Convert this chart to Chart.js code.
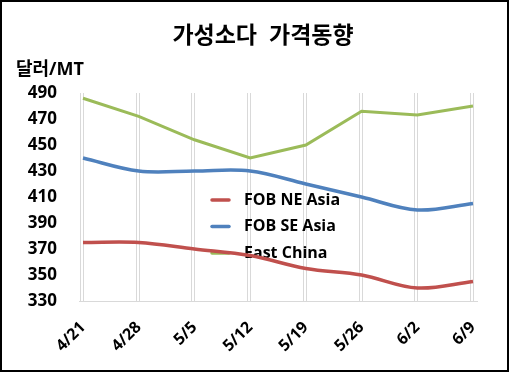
<!DOCTYPE html>
<html>
<head>
<meta charset="utf-8">
<script src="https://cdn.jsdelivr.net/npm/chart.js@4"></script>
<style>
  html, body { margin: 0; padding: 0; background: #fff; }
  #wrap { width: 509px; height: 372px; position: relative; }
</style>
</head>
<body>
<div id="wrap"><canvas id="priceChart"></canvas></div>
<script>
// Chart data
const weeks = ['4/21', '4/28', '5/5', '5/12', '5/19', '5/26', '6/2', '6/9'];
const neAsia = [375, 375, 370, 365, 355, 350, 340, 345];
const seAsia = [440, 430, 430, 430, 420, 410, 400, 405];
const eastChina = [486, 472, 454, 440, 450, 476, 473, 480];
const yTicks = [330, 350, 370, 390, 410, 430, 450, 470, 490];

const FONT = "'Open Sans', 'Noto Sans CJK KR', sans-serif";
const ctx = document.getElementById('priceChart').getContext('2d');

// Title, unit label, gridlines, legend and frame
const decorPlugin = {
    id: 'decor',
    beforeDatasetsDraw(chart) {
        const c = chart.ctx;
        const area = chart.chartArea;
        const xs = chart.scales.x;
        c.save();
        // vertical gridlines (doubled like the original)
        c.strokeStyle = '#d9d9d9';
        c.lineWidth = 1;
        weeks.forEach((w, i) => {
            const x = Math.round(xs.getPixelForValue(i)) + 0.5;
            [x - 3, x].forEach(gx => {
                c.beginPath();
                c.moveTo(gx, area.top);
                c.lineTo(gx, area.bottom + 1);
                c.stroke();
            });
        });
        // bottom axis line
        c.beginPath();
        c.moveTo(area.left - 4, area.bottom + 0.5);
        c.lineTo(area.right + 5, area.bottom + 0.5);
        c.stroke();

        // legend (drawn under the lines)
        const legend = [
            ['FOB NE Asia', '#c0504d'],
            ['FOB SE Asia', '#4f81bd'],
            ['East China', '#9bbb59']
        ];
        c.font = "bold 16px " + FONT;
        c.textBaseline = 'middle';
        c.textAlign = 'left';
        legend.forEach((item, i) => {
            const y = 200 + i * 26.5;
            c.strokeStyle = item[1];
            c.lineWidth = 3.5;
            c.lineCap = 'round';
            c.beginPath();
            c.moveTo(212, y);
            c.lineTo(229, y);
            c.stroke();
            c.fillStyle = '#000';
            c.fillText(item[0], 244, y);
        });
        c.restore();
    },
    afterDraw(chart) {
        const c = chart.ctx;
        c.save();
        c.fillStyle = '#000';
        c.textBaseline = 'middle';
        c.textAlign = 'center';
        c.font = "bold 23px " + FONT;
        c.fillText('가성소다  가격동향', 263, 36);
        c.textAlign = 'left';
        c.font = "bold 18px " + FONT;
        c.fillText('달러/MT', 16, 70);
        c.strokeStyle = '#000';
        c.lineWidth = 2;
        c.strokeRect(1, 1, 507, 370);
        c.restore();
    }
};

new Chart(ctx, {
    type: 'line',
    data: {
        labels: weeks,
        datasets: [
            {
                label: 'FOB NE Asia',
                data: neAsia,
                borderColor: '#c0504d',
                borderWidth: 3.5,
                tension: 0.35,
                pointRadius: 0
            },
            {
                label: 'FOB SE Asia',
                data: seAsia,
                borderColor: '#4f81bd',
                borderWidth: 3.5,
                tension: 0.35,
                pointRadius: 0
            },
            {
                label: 'East China',
                data: eastChina,
                borderColor: '#9bbb59',
                borderWidth: 3,
                tension: 0,
                pointRadius: 0
            }
        ]
    },
    options: {
        responsive: true,
        maintainAspectRatio: false,
        animation: false,
        layout: { padding: { top: 93, right: 36, left: 0, bottom: 0 } },
        scales: {
            x: {
                offset: false,
                grid: { display: false },
                border: { display: false },
                ticks: {
                    color: '#000',
                    font: { family: FONT, size: 16, weight: 'bold' },
                    minRotation: 45,
                    maxRotation: 45,
                    padding: 9
                },
                afterFit: (s) => { s.height = 71; }
            },
            y: {
                min: 330,
                max: 490,
                grid: { display: false },
                border: { display: false },
                afterBuildTicks: (s) => { s.ticks = yTicks.map(v => ({ value: v })); },
                ticks: {
                    color: '#000',
                    font: { family: FONT, size: 17, weight: 'bold' },
                    padding: 18
                },
                afterFit: (s) => { s.width = 83; }
            }
        },
        plugins: {
            legend: { display: false },
            tooltip: { enabled: false }
        }
    },
    plugins: [decorPlugin]
});
</script>
</body>
</html>
